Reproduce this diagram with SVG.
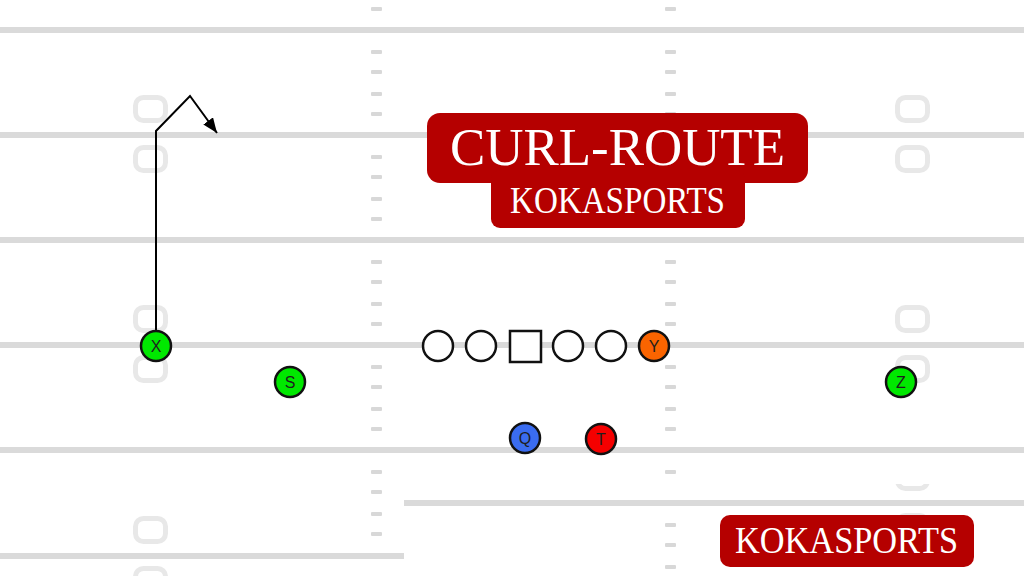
<svg xmlns="http://www.w3.org/2000/svg" width="1024" height="576" viewBox="0 0 1024 576">
<style>
.fl{fill:#dadada}
.hm{fill:#d8d8d8}
.nm{fill:none;stroke:#e8e8e8;stroke-width:5}
.pl{stroke:#111;stroke-width:2.5}
.ol{fill:#fff;stroke:#111;stroke-width:2.5}
.lb{font-family:"Liberation Sans",Arial,sans-serif;font-size:16px;fill:#1e1e1e;text-anchor:middle}
.bx{fill:#b50000}
.tt{font-family:"Liberation Serif","Times New Roman",serif;fill:#fff}
.rt{fill:none;stroke:#000;stroke-width:2}
</style>
<defs>
<marker id="ah" markerUnits="userSpaceOnUse" markerWidth="16" markerHeight="12" refX="15" refY="6" orient="auto">
<path d="M0,0 L15,6 L0,12 z" fill="#000"/>
</marker>
<rect id="h" width="11" height="4" rx="1" class="hm"/>
<rect id="m" width="30" height="23" rx="8" class="nm"/>
<clipPath id="pc"><rect x="404" y="484" width="620" height="92"/></clipPath>
</defs>
<rect width="1024" height="576" fill="#fff"/>
<g id="field">
<rect class="fl" x="0" y="27" width="1024" height="6"/>
<rect class="fl" x="0" y="132" width="1024" height="6"/>
<rect class="fl" x="0" y="237" width="1024" height="6"/>
<rect class="fl" x="0" y="342" width="1024" height="6"/>
<rect class="fl" x="0" y="447" width="1024" height="6"/>
<rect class="fl" x="0" y="553" width="1024" height="6"/>
<g id="hashes">
<use href="#h" x="371" y="7"/><use href="#h" x="665" y="7"/>
<use href="#h" x="371" y="50"/><use href="#h" x="371" y="70"/><use href="#h" x="371" y="92"/><use href="#h" x="371" y="112"/>
<use href="#h" x="665" y="50"/><use href="#h" x="665" y="70"/><use href="#h" x="665" y="92"/><use href="#h" x="665" y="112"/>
<use href="#h" x="371" y="155"/><use href="#h" x="371" y="175"/><use href="#h" x="371" y="197"/><use href="#h" x="371" y="217"/>
<use href="#h" x="371" y="260"/><use href="#h" x="371" y="280"/><use href="#h" x="371" y="302"/><use href="#h" x="371" y="322"/>
<use href="#h" x="665" y="260"/><use href="#h" x="665" y="280"/><use href="#h" x="665" y="302"/><use href="#h" x="665" y="322"/>
<use href="#h" x="371" y="365"/><use href="#h" x="371" y="385"/><use href="#h" x="371" y="407"/><use href="#h" x="371" y="427"/>
<use href="#h" x="665" y="365"/><use href="#h" x="665" y="385"/><use href="#h" x="665" y="407"/><use href="#h" x="665" y="427"/>
<use href="#h" x="371" y="470"/><use href="#h" x="371" y="490"/><use href="#h" x="371" y="512"/><use href="#h" x="371" y="532"/>
<use href="#h" x="665" y="470"/>
</g>
<g id="numbers">
<use href="#m" x="135.5" y="97.5"/><use href="#m" x="135.5" y="147.5"/>
<use href="#m" x="135.5" y="307.5"/><use href="#m" x="135.5" y="357.5"/>
<use href="#m" x="135.5" y="518.5"/><use href="#m" x="135.5" y="568.5"/>
<use href="#m" x="897.5" y="97.5"/><use href="#m" x="897.5" y="147.5"/>
<use href="#m" x="897.5" y="307.5"/><use href="#m" x="897.5" y="357.5"/>
</g>
<g id="patch" clip-path="url(#pc)">
<rect x="404" y="484" width="620" height="92" fill="#fff"/>
<rect class="fl" x="404" y="500" width="620" height="6"/>
<use href="#h" x="665" y="523"/><use href="#h" x="665" y="543"/><use href="#h" x="665" y="565"/>
<use href="#m" x="897.5" y="465.5"/><use href="#m" x="897.5" y="515.5"/>
</g>
</g>
<g id="connectors">
<path class="rt" d="M156,330 L156,131 L190,96 L217,133" marker-end="url(#ah)"/>
</g>
<g id="node-X"><circle class="pl" cx="156" cy="346" r="15" fill="#00e800"/><text class="lb" x="156" y="352">X</text></g>
<g id="node-S"><circle class="pl" cx="290" cy="382" r="15" fill="#00e800"/><text class="lb" x="290" y="388">S</text></g>
<g id="node-Z"><circle class="pl" cx="901" cy="382" r="15" fill="#00e800"/><text class="lb" x="901" y="388">Z</text></g>
<g id="node-LT"><circle class="ol" cx="438" cy="346" r="15"/></g>
<g id="node-LG"><circle class="ol" cx="481" cy="346" r="15"/></g>
<g id="node-C"><rect class="ol" x="510" y="331" width="31" height="31"/></g>
<g id="node-RG"><circle class="ol" cx="568" cy="346" r="15"/></g>
<g id="node-RT"><circle class="ol" cx="611" cy="346" r="15"/></g>
<g id="node-Y"><circle class="pl" cx="654" cy="346" r="15" fill="#fa6400"/><text class="lb" x="654" y="352">Y</text></g>
<g id="node-Q"><circle class="pl" cx="525" cy="438" r="15" fill="#3a6cf0"/><text class="lb" x="525" y="444">Q</text></g>
<g id="node-T"><circle class="pl" cx="601" cy="439" r="15" fill="#f50000"/><text class="lb" x="601" y="445">T</text></g>
<g id="title">
<rect class="bx" x="427" y="113" width="381" height="70" rx="13"/>
<rect class="bx" x="491" y="170" width="254" height="58" rx="9"/>
<text class="tt" x="450" y="165" font-size="52" textLength="335" lengthAdjust="spacingAndGlyphs">CURL-ROUTE</text>
<text class="tt" x="510" y="213" font-size="38" textLength="215" lengthAdjust="spacingAndGlyphs">KOKASPORTS</text>
</g>
<g id="badge">
<rect class="bx" x="720" y="515" width="254" height="52" rx="10"/>
<text class="tt" x="735" y="553" font-size="38" textLength="223" lengthAdjust="spacingAndGlyphs">KOKASPORTS</text>
</g>
</svg>
